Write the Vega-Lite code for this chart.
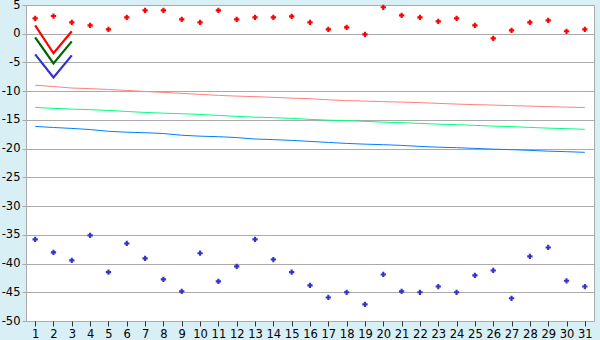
{
  "$schema": "https://vega.github.io/schema/vega-lite/v6.json",
  "width": 568,
  "height": 316,
  "autosize": {"type": "none"},
  "padding": {"left": 26, "top": 5, "right": 6, "bottom": 19},
  "background": "#d9eff6",
  "config": {
    "view": {"fill": "white", "stroke": "#aaaaaa", "strokeWidth": 1},
    "axis": {"labelFont": "DejaVu Sans", "labelFontSize": 11.5, "labelColor": "#000000"}
  },
  "datasets": {
    "trend": [
      {"day": 1, "s": "pink", "v": -8.97}, {"day": 2, "s": "pink", "v": -9.19}, {"day": 3, "s": "pink", "v": -9.45}, {"day": 4, "s": "pink", "v": -9.56}, {"day": 5, "s": "pink", "v": -9.7}, {"day": 6, "s": "pink", "v": -9.87}, {"day": 7, "s": "pink", "v": -10.05}, {"day": 8, "s": "pink", "v": -10.21}, {"day": 9, "s": "pink", "v": -10.38}, {"day": 10, "s": "pink", "v": -10.56}, {"day": 11, "s": "pink", "v": -10.73}, {"day": 12, "s": "pink", "v": -10.86}, {"day": 13, "s": "pink", "v": -10.95}, {"day": 14, "s": "pink", "v": -11.08}, {"day": 15, "s": "pink", "v": -11.21}, {"day": 16, "s": "pink", "v": -11.31}, {"day": 17, "s": "pink", "v": -11.5}, {"day": 18, "s": "pink", "v": -11.64}, {"day": 19, "s": "pink", "v": -11.73}, {"day": 20, "s": "pink", "v": -11.82}, {"day": 21, "s": "pink", "v": -11.9}, {"day": 22, "s": "pink", "v": -11.99}, {"day": 23, "s": "pink", "v": -12.12}, {"day": 24, "s": "pink", "v": -12.25}, {"day": 25, "s": "pink", "v": -12.34}, {"day": 26, "s": "pink", "v": -12.42}, {"day": 27, "s": "pink", "v": -12.51}, {"day": 28, "s": "pink", "v": -12.6}, {"day": 29, "s": "pink", "v": -12.69}, {"day": 30, "s": "pink", "v": -12.77}, {"day": 31, "s": "pink", "v": -12.84},
      {"day": 1, "s": "lime", "v": -12.82}, {"day": 2, "s": "lime", "v": -12.99}, {"day": 3, "s": "lime", "v": -13.12}, {"day": 4, "s": "lime", "v": -13.22}, {"day": 5, "s": "lime", "v": -13.35}, {"day": 6, "s": "lime", "v": -13.53}, {"day": 7, "s": "lime", "v": -13.7}, {"day": 8, "s": "lime", "v": -13.83}, {"day": 9, "s": "lime", "v": -13.92}, {"day": 10, "s": "lime", "v": -14.05}, {"day": 11, "s": "lime", "v": -14.21}, {"day": 12, "s": "lime", "v": -14.39}, {"day": 13, "s": "lime", "v": -14.52}, {"day": 14, "s": "lime", "v": -14.61}, {"day": 15, "s": "lime", "v": -14.73}, {"day": 16, "s": "lime", "v": -14.91}, {"day": 17, "s": "lime", "v": -15.04}, {"day": 18, "s": "lime", "v": -15.13}, {"day": 19, "s": "lime", "v": -15.26}, {"day": 20, "s": "lime", "v": -15.39}, {"day": 21, "s": "lime", "v": -15.48}, {"day": 22, "s": "lime", "v": -15.61}, {"day": 23, "s": "lime", "v": -15.74}, {"day": 24, "s": "lime", "v": -15.83}, {"day": 25, "s": "lime", "v": -15.95}, {"day": 26, "s": "lime", "v": -16.08}, {"day": 27, "s": "lime", "v": -16.17}, {"day": 28, "s": "lime", "v": -16.3}, {"day": 29, "s": "lime", "v": -16.43}, {"day": 30, "s": "lime", "v": -16.52}, {"day": 31, "s": "lime", "v": -16.64},
      {"day": 1, "s": "sky", "v": -16.13}, {"day": 2, "s": "sky", "v": -16.32}, {"day": 3, "s": "sky", "v": -16.48}, {"day": 4, "s": "sky", "v": -16.68}, {"day": 5, "s": "sky", "v": -16.98}, {"day": 6, "s": "sky", "v": -17.14}, {"day": 7, "s": "sky", "v": -17.23}, {"day": 8, "s": "sky", "v": -17.37}, {"day": 9, "s": "sky", "v": -17.67}, {"day": 10, "s": "sky", "v": -17.83}, {"day": 11, "s": "sky", "v": -17.92}, {"day": 12, "s": "sky", "v": -18.07}, {"day": 13, "s": "sky", "v": -18.33}, {"day": 14, "s": "sky", "v": -18.43}, {"day": 15, "s": "sky", "v": -18.57}, {"day": 16, "s": "sky", "v": -18.74}, {"day": 17, "s": "sky", "v": -18.92}, {"day": 18, "s": "sky", "v": -19.09}, {"day": 19, "s": "sky", "v": -19.22}, {"day": 20, "s": "sky", "v": -19.31}, {"day": 21, "s": "sky", "v": -19.44}, {"day": 22, "s": "sky", "v": -19.61}, {"day": 23, "s": "sky", "v": -19.75}, {"day": 24, "s": "sky", "v": -19.83}, {"day": 25, "s": "sky", "v": -19.96}, {"day": 26, "s": "sky", "v": -20.09}, {"day": 27, "s": "sky", "v": -20.18}, {"day": 28, "s": "sky", "v": -20.3}, {"day": 29, "s": "sky", "v": -20.44}, {"day": 30, "s": "sky", "v": -20.53}, {"day": 31, "s": "sky", "v": -20.64}
    ],
    "vee": [
      {"day": 1, "s": "red", "v": 1.46}, {"day": 2, "s": "red", "v": -3.4}, {"day": 3, "s": "red", "v": 0.42},
      {"day": 1, "s": "green", "v": -0.63}, {"day": 2, "s": "green", "v": -5.16}, {"day": 3, "s": "green", "v": -1.33},
      {"day": 1, "s": "blue", "v": -3.6}, {"day": 2, "s": "blue", "v": -7.6}, {"day": 3, "s": "blue", "v": -3.76}
    ],
    "pts": [
      {"day": 1, "s": "hi", "v": 2.68}, {"day": 2, "s": "hi", "v": 3.08}, {"day": 3, "s": "hi", "v": 1.98}, {"day": 4, "s": "hi", "v": 1.46}, {"day": 5, "s": "hi", "v": 0.76}, {"day": 6, "s": "hi", "v": 2.85}, {"day": 7, "s": "hi", "v": 4.07}, {"day": 8, "s": "hi", "v": 4.07}, {"day": 9, "s": "hi", "v": 2.5}, {"day": 10, "s": "hi", "v": 1.98}, {"day": 11, "s": "hi", "v": 4.07}, {"day": 12, "s": "hi", "v": 2.5}, {"day": 13, "s": "hi", "v": 2.85}, {"day": 14, "s": "hi", "v": 2.85}, {"day": 15, "s": "hi", "v": 3.03}, {"day": 16, "s": "hi", "v": 1.98}, {"day": 17, "s": "hi", "v": 0.76}, {"day": 18, "s": "hi", "v": 1.11}, {"day": 19, "s": "hi", "v": -0.11}, {"day": 20, "s": "hi", "v": 4.6}, {"day": 21, "s": "hi", "v": 3.2}, {"day": 22, "s": "hi", "v": 2.85}, {"day": 23, "s": "hi", "v": 2.16}, {"day": 24, "s": "hi", "v": 2.68}, {"day": 25, "s": "hi", "v": 1.46}, {"day": 26, "s": "hi", "v": -0.8}, {"day": 27, "s": "hi", "v": 0.59}, {"day": 28, "s": "hi", "v": 1.98}, {"day": 29, "s": "hi", "v": 2.33}, {"day": 30, "s": "hi", "v": 0.42}, {"day": 31, "s": "hi", "v": 0.76},
      {"day": 1, "s": "lo", "v": -35.8}, {"day": 2, "s": "lo", "v": -38.05}, {"day": 3, "s": "lo", "v": -39.45}, {"day": 4, "s": "lo", "v": -35.1}, {"day": 5, "s": "lo", "v": -41.5}, {"day": 6, "s": "lo", "v": -36.5}, {"day": 7, "s": "lo", "v": -39.1}, {"day": 8, "s": "lo", "v": -42.75}, {"day": 9, "s": "lo", "v": -44.85}, {"day": 10, "s": "lo", "v": -38.2}, {"day": 11, "s": "lo", "v": -43.1}, {"day": 12, "s": "lo", "v": -40.5}, {"day": 13, "s": "lo", "v": -35.8}, {"day": 14, "s": "lo", "v": -39.3}, {"day": 15, "s": "lo", "v": -41.5}, {"day": 16, "s": "lo", "v": -43.8}, {"day": 17, "s": "lo", "v": -45.9}, {"day": 18, "s": "lo", "v": -45.0}, {"day": 19, "s": "lo", "v": -47.1}, {"day": 20, "s": "lo", "v": -41.9}, {"day": 21, "s": "lo", "v": -44.85}, {"day": 22, "s": "lo", "v": -45.0}, {"day": 23, "s": "lo", "v": -44.0}, {"day": 24, "s": "lo", "v": -45.0}, {"day": 25, "s": "lo", "v": -42.05}, {"day": 26, "s": "lo", "v": -41.2}, {"day": 27, "s": "lo", "v": -46.05}, {"day": 28, "s": "lo", "v": -38.75}, {"day": 29, "s": "lo", "v": -37.2}, {"day": 30, "s": "lo", "v": -43.0}, {"day": 31, "s": "lo", "v": -44.0}
    ]
  },
  "encoding": {
    "x": {
      "field": "day", "type": "quantitative",
      "scale": {"domain": [0.5, 31.5], "nice": false, "zero": false},
      "axis": {
        "title": null, "grid": false, "domain": false,
        "values": [1,2,3,4,5,6,7,8,9,10,11,12,13,14,15,16,17,18,19,20,21,22,23,24,25,26,27,28,29,30,31],
        "tickColor": "#333333", "tickSize": 5, "labelPadding": 2, "labelFlush": false
      }
    },
    "y": {
      "field": "v", "type": "quantitative",
      "scale": {"domain": [-50, 5], "nice": false, "zero": false},
      "axis": {
        "title": null, "grid": true, "gridColor": "#aaaaaa", "gridOpacity": 1, "domain": false,
        "values": [-50,-45,-40,-35,-30,-25,-20,-15,-10,-5,0,5],
        "labelExpr": "'' + datum.value",
        "tickColor": "#aaaaaa", "tickSize": 4, "labelPadding": 2, "labelFlush": false
      }
    },
    "color": {
      "field": "s", "type": "nominal", "legend": null,
      "scale": {
        "domain": ["pink", "lime", "sky", "red", "green", "blue", "hi", "lo"],
        "range": ["#ff8080", "#00ff80", "#0080ff", "#ff0000", "#006400", "#3333cc", "#ff0000", "#3333cc"]
      }
    }
  },
  "layer": [
    {"data": {"name": "trend"}, "mark": {"type": "line", "strokeWidth": 1, "interpolate": "linear"}},
    {"data": {"name": "vee"}, "mark": {"type": "line", "strokeWidth": 2.2}},
    {"data": {"name": "pts"}, "mark": {"type": "point", "shape": "cross", "filled": true, "size": 28, "opacity": 1}}
  ]
}
